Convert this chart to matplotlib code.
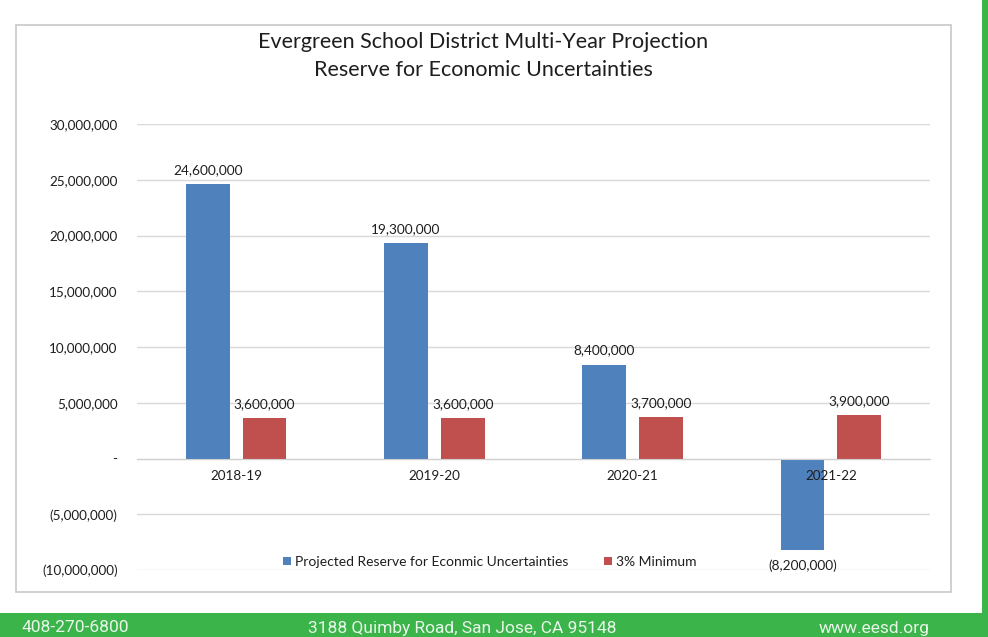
import matplotlib
matplotlib.use("Agg")
import matplotlib.pyplot as plt
from matplotlib.patches import Rectangle
from matplotlib.ticker import FuncFormatter, MultipleLocator

# ---- data ----
categories = ["2018-19", "2019-20", "2020-21", "2021-22"]
reserve = [24600000, 19300000, 8400000, -8200000]
minimum = [3600000, 3600000, 3700000, 3900000]
series_names = ["Projected Reserve for Econmic Uncertainties", "3% Minimum"]
title_lines = ["Evergreen School District Multi-Year Projection",
               "Reserve for Economic Uncertainties"]
footer_texts = ["408-270-6800", "3188 Quimby Road, San Jose, CA 95148", "www.eesd.org"]

W, H = 988, 637
fig = plt.figure(figsize=(W / 100, H / 100), dpi=100)
fig.patch.set_facecolor("white")

FONT = "Lato"
BLUE = "#4F81BD"
RED = "#C0504D"
GREEN = "#3BB44A"
TXT = "#1E1E1E"

def fx(px):
    return px / W

def fy(py):
    return 1 - py / H

# chart frame
fig.add_artist(Rectangle((fx(16), fy(592)), fx(951) - fx(16), fy(25) - fy(592),
                         transform=fig.transFigure, facecolor="white",
                         edgecolor="#C8C8C8", lw=1.2, zorder=0))
# green footer and right strip
fig.add_artist(Rectangle((0, 0), 1, fy(613), transform=fig.transFigure,
                         facecolor=GREEN, edgecolor="none", zorder=0))
fig.add_artist(Rectangle((fx(982), 0), 1 - fx(982), 1, transform=fig.transFigure,
                         facecolor=GREEN, edgecolor="none", zorder=0))

# axes
ax = fig.add_axes([fx(137), fy(570), fx(930) - fx(137), fy(124) - fy(570)])
ax.set_facecolor("none")
ax.set_ylim(-10000000, 30000000)
ax.set_xlim(-0.5, len(categories) - 0.5)
ax.yaxis.set_major_locator(MultipleLocator(5000000))

def yfmt(v, pos):
    if abs(v) < 1:
        return "-"
    if v < 0:
        return "({:,.0f})".format(-v)
    return "{:,.0f}".format(v)

ax.yaxis.set_major_formatter(FuncFormatter(yfmt))
ax.grid(axis="y", color="#D9D9D9", lw=1.0, zorder=0)
ax.set_axisbelow(True)
for s in ["left", "right", "top"]:
    ax.spines[s].set_visible(False)
ax.spines["bottom"].set_position(("data", 0))
ax.spines["bottom"].set_color("#D0D0D0")
ax.tick_params(axis="y", length=0, pad=14, labelsize=9.7, labelcolor=TXT)
ax.tick_params(axis="x", length=0, labelbottom=False)
for lab in ax.get_yticklabels():
    lab.set_fontfamily(FONT)

x = list(range(len(categories)))
bw = 0.22
off = 0.143
b1 = ax.bar([i - off for i in x], reserve, width=bw, color=BLUE,
            label=series_names[0], zorder=1)
b2 = ax.bar([i + off for i in x], minimum, width=bw, color=RED,
            label=series_names[1], zorder=1)
ax.set_xticks(x)

# category labels drawn on top of bars
for i, c in zip(x, categories):
    ax.annotate(c, (i, 0), xytext=(0, -8), textcoords="offset points",
                ha="center", va="top", fontsize=9.7, color=TXT, fontfamily=FONT,
                zorder=5)

def dlabel(v):
    return "({:,.0f})".format(-v) if v < 0 else "{:,.0f}".format(v)

for bars, vals in ((b1, reserve), (b2, minimum)):
    for r, v in zip(bars, vals):
        cx = r.get_x() + r.get_width() / 2
        if v >= 0:
            ax.annotate(dlabel(v), (cx, v), xytext=(0, 6), textcoords="offset points",
                        ha="center", va="bottom", fontsize=9.8, color=TXT, fontfamily=FONT)
        else:
            ax.annotate(dlabel(v), (cx, v), xytext=(0, -7), textcoords="offset points",
                        ha="center", va="top", fontsize=9.8, color=TXT, fontfamily=FONT)

leg = ax.legend(loc="center", bbox_to_anchor=(fx(490), fy(562)),
                bbox_transform=fig.transFigure, ncol=2, frameon=False,
                handlelength=0.55, handleheight=0.55, handletextpad=0.3,
                columnspacing=2.6, prop={"family": FONT, "size": 10})
for t in leg.get_texts():
    t.set_color(TXT)

# titles
fig.text(fx(483), fy(42), title_lines[0], ha="center", va="center",
         fontsize=15.5, color=TXT, fontfamily=FONT)
fig.text(fx(483), fy(70), title_lines[1], ha="center", va="center",
         fontsize=15.5, color=TXT, fontfamily=FONT)

# footer
fcol = "#E9F6EA"
fig.text(fx(22), fy(628), footer_texts[0], ha="left", va="center",
         fontsize=12.5, color=fcol, fontfamily="Roboto")
fig.text(fx(462), fy(628), footer_texts[1], ha="center", va="center",
         fontsize=12.5, color=fcol, fontfamily="Roboto")
fig.text(fx(930), fy(628), footer_texts[2], ha="right", va="center",
         fontsize=12.5, color=fcol, fontfamily="Roboto")

fig.savefig("out.png", dpi=100)
